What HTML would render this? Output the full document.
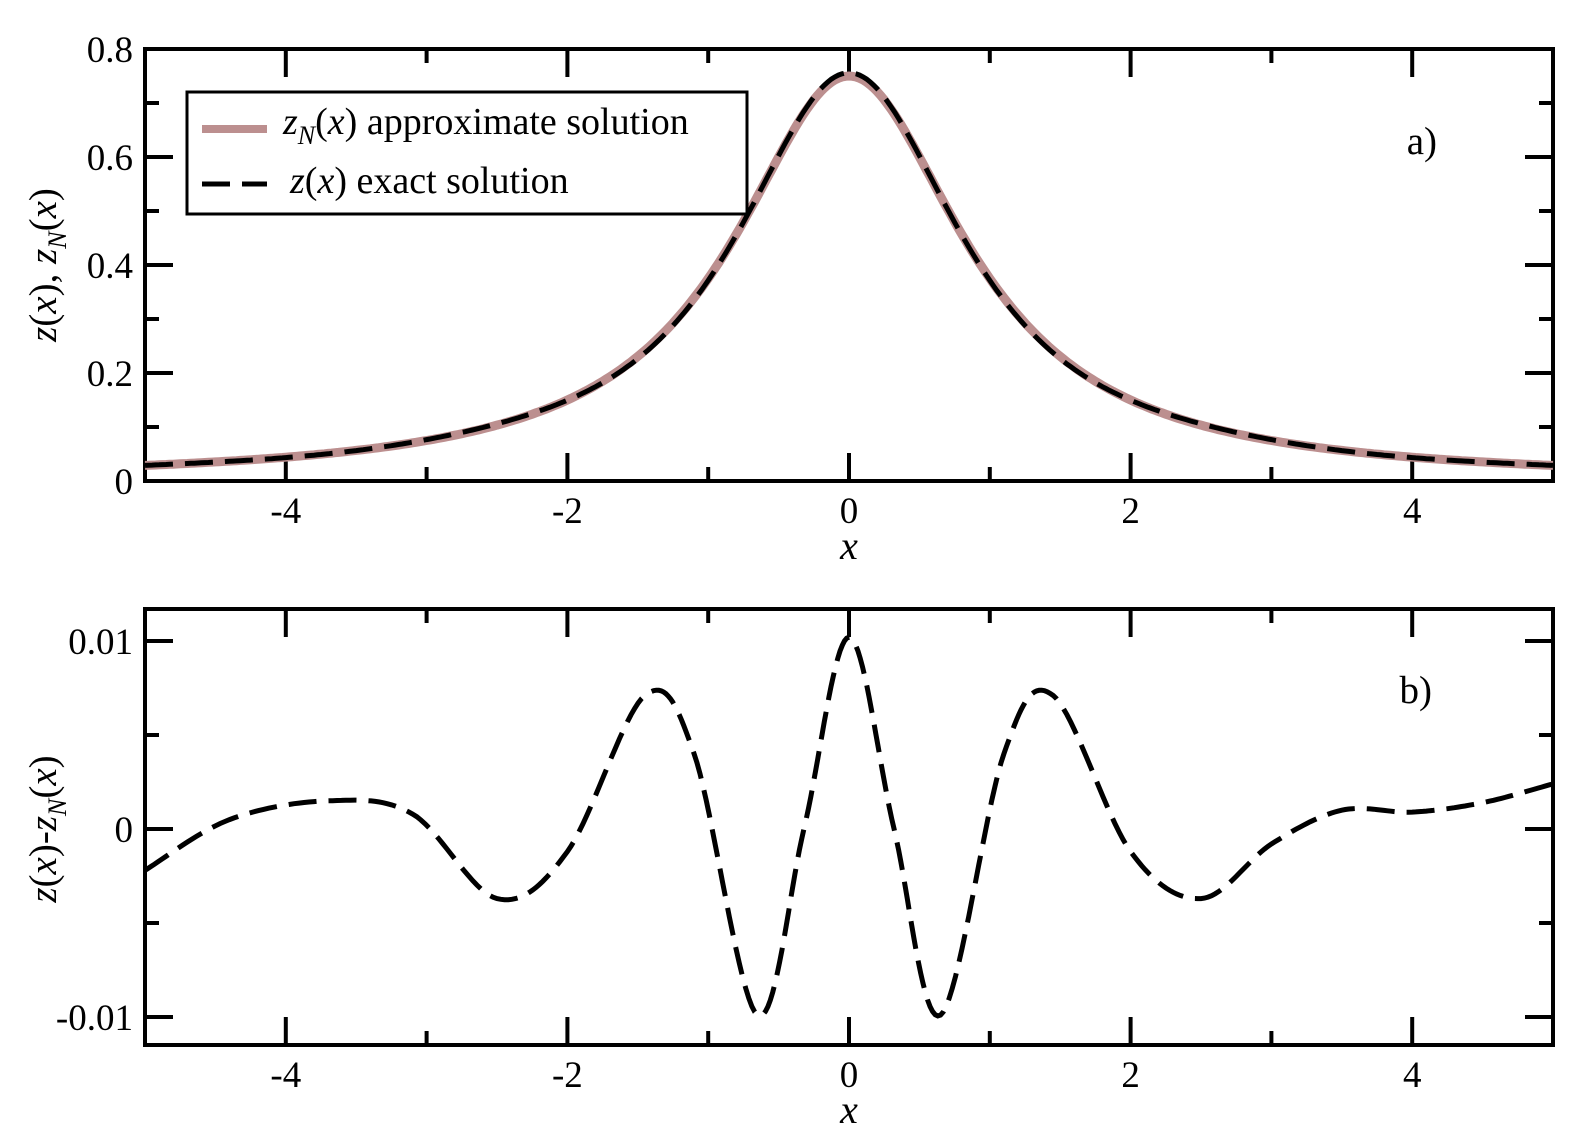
<!DOCTYPE html>
<html><head><meta charset="utf-8"><style>
html,body{margin:0;padding:0;background:#fff;width:1580px;height:1140px;overflow:hidden}
svg text{font-family:"Liberation Serif",serif;fill:#000}
</style></head><body>
<svg id="s" width="1580" height="1140" xmlns="http://www.w3.org/2000/svg"></svg>
<script>
const S=document.getElementById('s');let h='';
const X0=145,X1=1553,sx=v=>849+v*140.8;
function frame(top,bot,yt,ymaj,ymin,ylab){
 h+=`<rect x="${X0}" y="${top}" width="${X1-X0}" height="${bot-top}" fill="none" stroke="#000" stroke-width="4"/>`;
 for(let v=-5;v<=5;v++){const x=sx(v),L=(v%2==0)?28:14;
  h+=`<line x1="${x}" y1="${bot}" x2="${x}" y2="${bot-L}" stroke="#000" stroke-width="4"/><line x1="${x}" y1="${top}" x2="${x}" y2="${top+L}" stroke="#000" stroke-width="4"/>`;
  if(v%2==0&&Math.abs(v)<5)h+=`<text x="${x}" y="${bot+42}" font-size="37" text-anchor="middle">${v<0?'-'+(-v):v}</text>`;}
 ymaj.forEach(([y,t])=>{h+=`<line x1="${X0}" y1="${y}" x2="${X0+28}" y2="${y}" stroke="#000" stroke-width="4"/><line x1="${X1}" y1="${y}" x2="${X1-28}" y2="${y}" stroke="#000" stroke-width="4"/><text x="${X0-12}" y="${y+13}" font-size="37" text-anchor="end">${t}</text>`;});
 ymin.forEach(y=>{h+=`<line x1="${X0}" y1="${y}" x2="${X0+14}" y2="${y}" stroke="#000" stroke-width="4"/><line x1="${X1}" y1="${y}" x2="${X1-14}" y2="${y}" stroke="#000" stroke-width="4"/>`;});
 h+=`<text x="849" y="${bot+78}" font-size="40" font-style="italic" text-anchor="middle">x</text>`;
}
const ty=v=>481-v*540;
frame(49,481,0,[[481,'0'],[ty(.2),'0.2'],[ty(.4),'0.4'],[ty(.6),'0.6'],[49,'0.8']],[ty(.1),ty(.3),ty(.5),ty(.7)]);
let p='';for(let i=0;i<=400;i++){const x=-5+i/40,y=0.75/(1+x*x);p+=(i?'L':'M')+sx(x).toFixed(1)+','+ty(y).toFixed(1);}
h+=`<path d="${p}" fill="none" stroke="#bc8f8f" stroke-width="9"/>`;
let p2='';for(let i=0;i<=400;i++){const x=-5+i/40,y=0.75/(1+x*x)+0.006*Math.cos(2.3*x)*Math.exp(-x*x/8);p2+=(i?'L':'M')+sx(x).toFixed(1)+','+ty(y).toFixed(1);}
h+=`<path d="${p2}" fill="none" stroke="#000" stroke-width="5" stroke-dasharray="28,12"/>`;
h+=`<rect x="187" y="92" width="560" height="122" fill="#fff" stroke="#000" stroke-width="3"/>`;
h+=`<line x1="202" y1="129" x2="267" y2="129" stroke="#bc8f8f" stroke-width="8"/><line x1="202" y1="184" x2="267" y2="184" stroke="#000" stroke-width="5" stroke-dasharray="28,12"/>`;
h+=`<text x="283" y="134" font-size="38"><tspan font-style="italic">z</tspan><tspan font-style="italic" font-size="26" dy="10">N</tspan><tspan dy="-10">(<tspan font-style="italic">x</tspan>) approximate solution</tspan></text>`;
h+=`<text x="290" y="193" font-size="38"><tspan font-style="italic">z</tspan>(<tspan font-style="italic">x</tspan>) exact solution</text>`;
h+=`<text x="1437" y="154" font-size="39" text-anchor="end">a)</text>`;
h+=`<text transform="translate(56,265) rotate(-90)" font-size="39" text-anchor="middle"><tspan font-style="italic">z</tspan>(<tspan font-style="italic">x</tspan>), <tspan font-style="italic">z</tspan><tspan font-style="italic" font-size="26" dy="10">N</tspan><tspan dy="-10">(<tspan font-style="italic">x</tspan>)</tspan></text>`;
const by=v=>829-v*18800;
frame(609,1045,0,[[by(.01),'0.01'],[829,'0'],[by(-.01),'-0.01']],[by(.005),by(-.005)]);
const pts=[[-5.2,-.0032],[-5,-.0022],[-4.4,.0005],[-3.7,.0015],[-3.1,.0008],[-2.5,-.0037],[-2.0,-.0012],[-1.45,.0071],[-1.1,.004],[-.65,-.0099],[-.32,0],[0,.0102],[.32,0],[.65,-.0099],[1.1,.004],[1.45,.0071],[2.0,-.0012],[2.5,-.0037],[3.0,-.0008],[3.5,.0010],[4.0,.0009],[4.5,.0014],[5,.0024],[5.2,.0028]];
let q='';
for(let i=1;i<pts.length-2;i++){const [a,b,c,d]=[pts[i-1],pts[i],pts[i+1],pts[i+2]];
 for(let k=0;k<=20;k++){const t=k/20,t2=t*t,t3=t2*t;
  const f=(p0,p1,p2,p3)=>0.5*(2*p1+(-p0+p2)*t+(2*p0-5*p1+4*p2-p3)*t2+(-p0+3*p1-3*p2+p3)*t3);
  const x=f(a[0],b[0],c[0],d[0]),y=f(a[1],b[1],c[1],d[1]);q+=(q?'L':'M')+sx(x).toFixed(1)+','+by(y).toFixed(1);}}
h+=`<path d="${q}" fill="none" stroke="#000" stroke-width="5" stroke-dasharray="28,12"/>`;
h+=`<text x="1432" y="703" font-size="39" text-anchor="end">b)</text>`;
h+=`<text transform="translate(56,829) rotate(-90)" font-size="39" text-anchor="middle"><tspan font-style="italic">z</tspan>(<tspan font-style="italic">x</tspan>)-<tspan font-style="italic">z</tspan><tspan font-style="italic" font-size="26" dy="10">N</tspan><tspan dy="-10">(<tspan font-style="italic">x</tspan>)</tspan></text>`;
S.innerHTML=h;
</script>
</body></html>
